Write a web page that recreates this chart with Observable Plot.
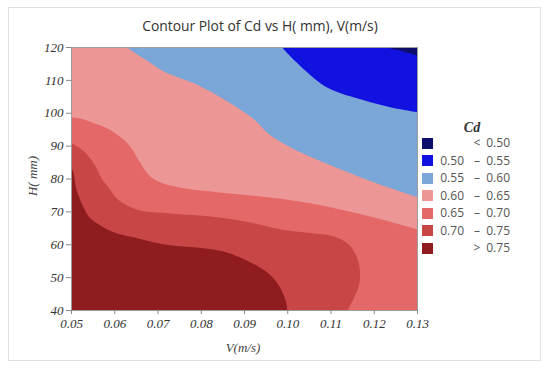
<!DOCTYPE html>
<html><head><meta charset="utf-8">
<script src="https://cdn.jsdelivr.net/npm/d3@7"></script>
<script src="https://cdn.jsdelivr.net/npm/@observablehq/plot@0.6"></script>
<style>
body{margin:0;background:#fff;}
#wrap{position:relative;width:550px;height:371px;overflow:hidden;font-family:"Open Sans",sans-serif;}
#border{position:absolute;left:8px;top:7px;width:531px;height:352px;border:1px solid #e0e0e0;box-sizing:content-box;}
#chart{position:absolute;left:0;top:0;}
#title{position:absolute;left:0;width:520px;top:16px;line-height:20px;text-align:center;color:#333;white-space:nowrap;font-size:15px;}
.axlab{position:absolute;font-family:"Liberation Serif",serif;font-style:italic;font-size:13px;color:#444;white-space:nowrap;transform:translate(-50%,-50%);}
#ylab{transform:translate(-50%,-50%) rotate(-90deg);}
.leg{position:absolute;font-size:12px;color:#555;white-space:nowrap;line-height:16px;}
.sw{position:absolute;width:11px;height:11px;}
#cd{position:absolute;left:472px;top:128px;transform:translate(-50%,-50%);font-family:"Liberation Serif",serif;font-style:italic;font-weight:bold;font-size:14px;color:#333;}
</style>
</head><body>
<div id="wrap">
  <div id="border"></div>
  <div id="chart"></div>
  <div id="title"><span>Contour Plot of Cd vs H( mm), V(m/s)</span></div>
  <div class="axlab" id="xlab" style="left:243px;top:348px">V(m/s)</div>
  <div class="axlab" id="ylab" style="left:33px;top:176px">H( mm)</div>
  <div id="cd">Cd</div>
</div>
<script>
// ---- data ----
const vTicks = [0.05, 0.06, 0.07, 0.08, 0.09, 0.10, 0.11, 0.12, 0.13];
const hTicks = [40, 50, 60, 70, 80, 90, 100, 110, 120];
const levels = [0.50, 0.55, 0.60, 0.65, 0.70, 0.75];
const bandColors = ["#0d0d6b", "#1111e0", "#7ba6d8", "#ed9696", "#e46868", "#c84646", "#8f1d20"];

// contour lines [V, H], ordered from upper/left end to lower/right end
const c075 = [[0.030,125],[0.030,84.6],[0.0485,84.4],[0.0502,83],[0.0513,76.5],[0.0528,71.5],[0.0544,68],[0.0567,65.8],[0.0597,63.7],[0.066,61.6],[0.0717,59.9],[0.0833,58.3],[0.0886,56.3],[0.0932,53.3],[0.0962,50.5],[0.0985,46.5],[0.0996,43],[0.1,40],[0.1002,36]];
const c070 = [[0.030,125],[0.030,91],[0.048,90.8],[0.0502,90.6],[0.0516,89.6],[0.0532,88],[0.0555,84.1],[0.0571,79.9],[0.0586,77.4],[0.0609,73.5],[0.0655,70.4],[0.0717,69.5],[0.0833,68.3],[0.0909,66.8],[0.0983,64.6],[0.1053,63.4],[0.1103,62.5],[0.1138,60.4],[0.1159,56.7],[0.1168,52.2],[0.1166,47.6],[0.1154,43.6],[0.114,40],[0.1133,36]];
const c065 = [[0.030,125],[0.030,98.8],[0.048,98.7],[0.05,98.6],[0.0528,98],[0.0555,96.7],[0.0581,95.4],[0.0602,93.8],[0.0623,91.7],[0.0641,89],[0.0655,85.9],[0.0669,82.9],[0.0687,80.2],[0.071,78.6],[0.0757,77.1],[0.0833,75.9],[0.0949,74.4],[0.1053,72.5],[0.1168,69.2],[0.13,64.6],[0.133,63.4]];
const c060 = [[0.062,123],[0.063,120],[0.0648,118.2],[0.0678,115.7],[0.0717,112.4],[0.0794,108.4],[0.0856,103.9],[0.0925,97.8],[0.0955,93.8],[0.1006,89.6],[0.1071,85.6],[0.1187,79.5],[0.13,74.4],[0.133,73.2]];
const c055 = [[0.0975,123],[0.0988,120],[0.1023,115.1],[0.1053,111.5],[0.1083,108.4],[0.1122,106],[0.1175,103.9],[0.1238,101.7],[0.13,100.2],[0.133,99.5]];
const c050 = [[0.122,121.5],[0.1231,120],[0.1265,118.8],[0.13,117.4],[0.133,116.5]];

// each contour level paints the lower-Cd band above it
const layers = [
  {level: 0.75, pts: c075, color: bandColors[5]},
  {level: 0.70, pts: c070, color: bandColors[4]},
  {level: 0.65, pts: c065, color: bandColors[3]},
  {level: 0.60, pts: c060, color: bandColors[2]},
  {level: 0.55, pts: c055, color: bandColors[1]},
  {level: 0.50, pts: c050, color: bandColors[0]}
];

const tickText = {fontFamily: "Liberation Serif", fontStyle: "italic", fontSize: 13};

const plot = Plot.plot({
  width: 550, height: 371,
  marginTop: 47, marginBottom: 61, marginLeft: 71, marginRight: 133,
  x: {domain: [0.05, 0.13]},
  y: {domain: [40, 120]},
  style: {fontFamily: "Liberation Serif", fontSize: "13px", fontStyle: "italic", background: "transparent", overflow: "visible"},
  marks: [
    Plot.frame({fill: bandColors[6], stroke: null}),
    ...layers.map(l => Plot.areaX(l.pts.map(([V, H]) => ({V, H})), {
      y: "H", x1: "V", x2: vTicks[vTicks.length - 1], fill: l.color, curve: "catmull-rom", clip: true
    })),
    Plot.frame({stroke: "#9c9c9c"}),
    Plot.axisX(vTicks, {tickSize: 4, tickPadding: 4, tickFormat: d3.format(".2f"), label: null, stroke: "#888", fill: "#333", ...tickText}),
    Plot.axisY(hTicks, {tickSize: 5, tickPadding: 3, label: null, stroke: "#888", fill: "#333", ...tickText})
  ]
});
document.getElementById("chart").appendChild(plot);
plot.querySelectorAll("text").forEach(t => {
  t.style.fontFamily = '"Liberation Serif", serif';
  t.style.fontStyle = "italic";
  t.style.fontSize = "13px";
});

// title width fit
const tspan = document.querySelector("#title span");
const w = tspan.getBoundingClientRect().width;
document.getElementById("title").style.fontSize = (15 * 236 / w) + "px";

// legend
const wrap = document.getElementById("wrap");
const fmt = d3.format(".2f");
const legendRows = [["", "<", fmt(levels[0])]];
for (let i = 0; i < levels.length - 1; i++) legendRows.push([fmt(levels[i]), "\u2013", fmt(levels[i + 1])]);
legendRows.push(["", ">", fmt(levels[levels.length - 1])]);
legendRows.forEach((r, i) => {
  const cy = 143 + i * 17.5;
  const sw = document.createElement("div");
  sw.className = "sw";
  sw.style.left = "422px"; sw.style.top = (cy - 5.5) + "px";
  sw.style.background = bandColors[i];
  wrap.appendChild(sw);
  const mk = (txt, left, width, align) => {
    const d = document.createElement("div");
    d.className = "leg";
    d.textContent = txt;
    d.style.left = left + "px"; d.style.width = width + "px";
    d.style.top = (cy - 8) + "px"; d.style.textAlign = align;
    wrap.appendChild(d);
  };
  if (r[0]) mk(r[0], 430, 34, "right");
  mk(r[1], 470, 14, "center");
  mk(r[2], 480, 30, "right");
});
</script>
</body></html>
